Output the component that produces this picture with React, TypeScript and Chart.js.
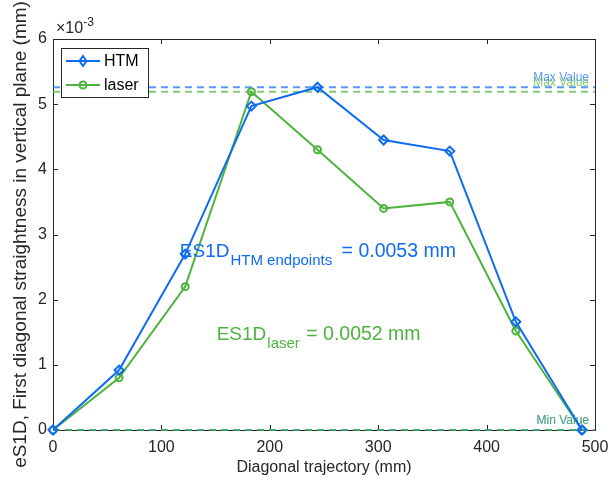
import React, { useEffect, useRef } from "react";
import { Chart, registerables } from "chart.js";

Chart.register(...registerables);

// Diagonal trajectory positions (mm)
const TRAJECTORY = [0, 61, 122, 183, 244, 305, 366, 427, 488];
// Straightness values, in units of 1e-3 mm
const HTM = [0, 0.92, 2.7, 4.97, 5.26, 4.45, 4.28, 1.66, 0];
const LASER = [0, 0.8, 2.2, 5.19, 4.3, 3.4, 3.5, 1.52, 0];
const SERIES_NAMES = ["HTM", "laser"];
const X_TICKS = [0, 100, 200, 300, 400, 500];
const Y_TICKS = [0, 1, 2, 3, 4, 5, 6];
const Y_EXPONENT = -3;

const BLUE = "rgb(15,108,242)";
const GREEN = "rgb(77,179,61)";
const BLUE_A = "rgba(15,108,242,0.7)";
const GREEN_A = "rgba(77,179,61,0.7)";
const FONT = "'Liberation Sans', Arial, sans-serif";
const AXIS = "#262626";

function fmt(v: number) {
  return (v * Math.pow(10, Y_EXPONENT)).toFixed(4);
}

export default function App() {
  const ref = useRef<HTMLCanvasElement | null>(null);
  useEffect(() => {
    const canvas = ref.current!;
    const maxH = Math.max(...HTM);
    const maxL = Math.max(...LASER);
    const minH = Math.min(...HTM);
    const minL = Math.min(...LASER);

    const drawMarker = (ctx: CanvasRenderingContext2D, kind: string, x: number, y: number, color: string) => {
      ctx.save();
      ctx.strokeStyle = color;
      ctx.lineWidth = 2;
      ctx.beginPath();
      if (kind === "d") {
        ctx.moveTo(x, y - 5);
        ctx.lineTo(x + 3.5, y);
        ctx.lineTo(x, y + 5);
        ctx.lineTo(x - 3.5, y);
        ctx.closePath();
      } else {
        ctx.arc(x, y, 3.5, 0, Math.PI * 2);
      }
      ctx.stroke();
      ctx.restore();
    };

    const plugin = {
      id: "matlabLook",
      beforeDatasetsDraw(chart: any) {
        const ctx = chart.ctx as CanvasRenderingContext2D;
        const { left, right, top, bottom } = chart.chartArea;
        const xs = chart.scales.x;
        const ys = chart.scales.y;
        ctx.save();
        // box
        ctx.strokeStyle = AXIS;
        ctx.lineWidth = 1;
        ctx.strokeRect(left + 0.5, top + 0.5, right - left, bottom - top);
        // ticks
        ctx.beginPath();
        for (const t of X_TICKS) {
          const x = Math.round(xs.getPixelForValue(t)) + 0.5;
          ctx.moveTo(x, bottom);
          ctx.lineTo(x, bottom - 5);
          ctx.moveTo(x, top);
          ctx.lineTo(x, top + 5);
        }
        for (const t of Y_TICKS) {
          const y = Math.round(ys.getPixelForValue(t)) + 0.5;
          ctx.moveTo(left, y);
          ctx.lineTo(left + 5, y);
          ctx.moveTo(right, y);
          ctx.lineTo(right - 5, y);
        }
        ctx.stroke();

        const lines = [
          { v: maxH, c: BLUE_A, t: "Max Value" },
          { v: maxL, c: GREEN_A, t: "Max Value" },
          { v: minH, c: BLUE_A, t: "Min Value" },
          { v: minL, c: GREEN_A, t: "Min Value" },
        ];
        for (const l of lines) {
          const y = ys.getPixelForValue(l.v);
          ctx.strokeStyle = l.c;
          ctx.lineWidth = 2;
          ctx.setLineDash([7, 5]);
          ctx.beginPath();
          ctx.moveTo(left, y);
          ctx.lineTo(right, y);
          ctx.stroke();
          ctx.setLineDash([]);
          ctx.fillStyle = l.c;
          ctx.font = `12px ${FONT}`;
          ctx.textAlign = "right";
          ctx.textBaseline = "alphabetic";
          ctx.fillText(l.t, right - 6, y - 6);
        }
        ctx.restore();
      },
      afterDraw(chart: any) {
        const ctx = chart.ctx as CanvasRenderingContext2D;
        const { left, right, top, bottom } = chart.chartArea;
        const xs = chart.scales.x;
        const ys = chart.scales.y;
        ctx.save();
        // tick labels
        ctx.fillStyle = AXIS;
        ctx.font = `16px ${FONT}`;
        ctx.textAlign = "center";
        ctx.textBaseline = "middle";
        for (const t of X_TICKS) {
          ctx.fillText(String(t), xs.getPixelForValue(t), bottom + 18);
        }
        ctx.textAlign = "right";
        for (const t of Y_TICKS) {
          ctx.fillText(String(t), left - 6, ys.getPixelForValue(t));
        }
        // exponent
        ctx.textAlign = "left";
        ctx.textBaseline = "alphabetic";
        ctx.font = `16px ${FONT}`;
        ctx.fillText("\u00d710", left + 3, top - 6);
        const w10 = ctx.measureText("\u00d710").width;
        ctx.font = `12px ${FONT}`;
        ctx.fillText(String(Y_EXPONENT), left + 3 + w10, top - 13);
        // axis titles
        ctx.font = `16px ${FONT}`;
        ctx.textAlign = "center";
        ctx.textBaseline = "middle";
        ctx.fillText("Diagonal trajectory (mm)", (left + right) / 2, bottom + 38);
        ctx.save();
        ctx.translate(21, (top + bottom) / 2);
        ctx.rotate(-Math.PI / 2);
        ctx.font = `19px ${FONT}`;
        ctx.fillText("eS1D, First diagonal straightness in vertical plane (mm)", 0, 0);
        ctx.restore();

        // annotations
        const drawSub = (x: number, y: number, main: string, sub: string, rest: string, color: string, gap: number) => {
          ctx.fillStyle = color;
          ctx.textAlign = "left";
          ctx.textBaseline = "alphabetic";
          ctx.font = `19px ${FONT}`;
          ctx.fillText(main, x, y);
          let cx = x + ctx.measureText(main).width + 1;
          ctx.font = `15px ${FONT}`;
          ctx.fillText(sub, cx, y + 8);
          cx += ctx.measureText(sub).width + gap;
          ctx.font = `19.5px ${FONT}`;
          ctx.fillText(rest, cx, y);
        };
        drawSub(xs.getPixelForValue(117), ys.getPixelForValue(2.65), "ES1D", "HTM endpoints", " = " + fmt(maxH - minH) + " mm", BLUE, 4);
        drawSub(xs.getPixelForValue(151), ys.getPixelForValue(1.38), "ES1D", "laser", " = " + fmt(maxL - minL) + " mm", GREEN, 1);

        // legend
        const lx = 61, ly = 48, lw = 87, lh = 49;
        ctx.fillStyle = "#fff";
        ctx.fillRect(lx, ly, lw, lh);
        ctx.strokeStyle = AXIS;
        ctx.lineWidth = 1;
        ctx.strokeRect(lx + 0.5, ly + 0.5, lw, lh);
        const entries = [
          { name: SERIES_NAMES[0], c: BLUE, m: "d", y: 61 },
          { name: SERIES_NAMES[1], c: GREEN, m: "o", y: 85 },
        ];
        for (const e of entries) {
          ctx.strokeStyle = e.c;
          ctx.lineWidth = 2;
          ctx.beginPath();
          ctx.moveTo(66, e.y);
          ctx.lineTo(100, e.y);
          ctx.stroke();
          drawMarker(ctx, e.m, 83, e.y, e.c);
          ctx.fillStyle = "#000";
          ctx.font = `16px ${FONT}`;
          ctx.textAlign = "left";
          ctx.textBaseline = "middle";
          ctx.fillText(e.name, 104, e.y + 1);
        }
        ctx.restore();
      },
    };

    const chart = new Chart(canvas, {
      type: "line",
      data: {
        datasets: [
          {
            label: SERIES_NAMES[0],
            data: TRAJECTORY.map((x, i) => ({ x, y: HTM[i] })),
            borderColor: BLUE,
            backgroundColor: "rgba(0,0,0,0)",
            borderWidth: 2,
            pointStyle: "rectRot",
            pointRadius: 4.5,
            pointBorderWidth: 2,
            pointBorderColor: BLUE,
            pointBackgroundColor: "rgba(0,0,0,0)",
            tension: 0,
            clip: false as any,
          },
          {
            label: SERIES_NAMES[1],
            data: TRAJECTORY.map((x, i) => ({ x, y: LASER[i] })),
            borderColor: GREEN,
            backgroundColor: "rgba(0,0,0,0)",
            borderWidth: 2,
            pointStyle: "circle",
            pointRadius: 3.5,
            pointBorderWidth: 2,
            pointBorderColor: GREEN,
            pointBackgroundColor: "rgba(0,0,0,0)",
            tension: 0,
            clip: false as any,
          },
        ],
      },
      options: {
        animation: false,
        responsive: false,
        devicePixelRatio: 1,
        layout: { padding: { left: 53, right: 21, top: 39, bottom: 55 } },
        plugins: { legend: { display: false }, tooltip: { enabled: false } },
        scales: {
          x: { type: "linear", min: 0, max: 500, display: false },
          y: { type: "linear", min: 0, max: 6, display: false },
        },
      },
      plugins: [plugin],
    });
    return () => chart.destroy();
  }, []);

  return (
    <div style={{ position: "fixed", left: 0, top: 0, width: 616, height: 485, background: "#fff" }}>
      <canvas ref={ref} width={616} height={485} style={{ display: "block" }} />
    </div>
  );
}
